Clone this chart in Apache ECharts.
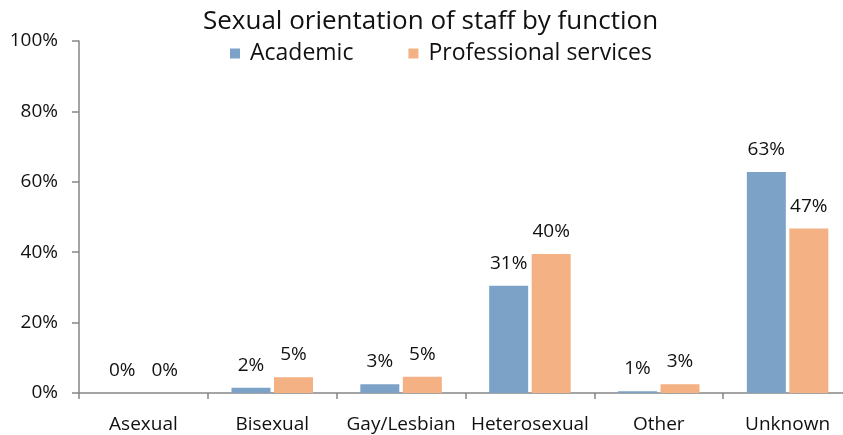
<!DOCTYPE html>
<html lang="en">
<head>
    <meta charset="UTF-8">
    <title>Sexual orientation of staff by function</title>
    <script type="text/javascript" src="https://cdn.jsdelivr.net/npm/echarts@6/dist/echarts.min.js"></script>
</head>
<body style="margin:0;background:#fff;overflow:hidden;">
<!-- the original plot runs a few px past the right edge, so the div is wider than the window -->
<div id="main" style="height: 435px;width: 860px;"></div>
<script type="text/javascript">

    // data (percent)
    var categories = ['Asexual', 'Bisexual', 'Gay/Lesbian', 'Heterosexual', 'Other', 'Unknown'];
    var academic = [0, 1.5, 2.5, 30.5, 0.5, 62.8];
    var professional = [0, 4.5, 4.6, 39.5, 2.5, 46.7];
    var yTicks = [0, 20, 40, 60, 80, 100];

    var font = 'Open Sans';

    function draw() {
        var myChart = echarts.init(document.getElementById("main"));

        var barLabel = {
            show: true,
            position: 'top',
            distance: 13,
            color: '#111',
            fontSize: 19,
            fontFamily: font,
            formatter: function (p) {
                return Math.round(p.value) + '%';
            }
        };

        var option = {
            animation: false,
            color: ['#7da2c8', '#f4b183'],
            title: {
                text: 'Sexual orientation of staff by function',
                left: 198,
                top: 4,
                textStyle: {
                    color: '#111',
                    fontSize: 26,
                    fontWeight: 'normal',
                    fontFamily: font
                }
            },
            legend: {
                data: ['Academic', 'Professional services'],
                top: 42,
                left: 230,
                padding: 0,
                icon: 'rect',
                itemWidth: 10,
                itemHeight: 10,
                itemGap: 55,
                textStyle: {
                    color: '#111',
                    fontSize: 23,
                    fontFamily: font,
                    padding: [0, 0, 0, 5]
                }
            },
            grid: {
                left: 79,
                top: 41,
                width: 773,
                bottom: 42,
                containLabel: false
            },
            xAxis: {
                type: 'category',
                data: categories,
                axisLine: {lineStyle: {color: '#868686', width: 1.5}},
                axisTick: {show: true, length: 6, lineStyle: {color: '#868686', width: 1.5}},
                axisLabel: {
                    interval: 0,
                    margin: 22,
                    color: '#111',
                    fontSize: 19,
                    fontFamily: font
                }
            },
            yAxis: {
                type: 'value',
                min: yTicks[0],
                max: yTicks[yTicks.length - 1],
                interval: 20,
                axisLine: {show: true, lineStyle: {color: '#868686', width: 1.5}},
                axisTick: {show: true, length: 7, lineStyle: {color: '#868686', width: 1.5}},
                splitLine: {show: false},
                axisLabel: {
                    margin: 21,
                    color: '#111',
                    fontSize: 19,
                    fontFamily: font,
                    formatter: '{value}%'
                }
            },
            series: [{
                name: 'Academic',
                type: 'bar',
                data: academic,
                barWidth: 39,
                barGap: '9%',
                label: barLabel
            }, {
                name: 'Professional services',
                type: 'bar',
                data: professional,
                barWidth: 39,
                label: barLabel
            }]
        };

        option && myChart.setOption(option);
    }

    draw();

</script>

</body>
</html>
